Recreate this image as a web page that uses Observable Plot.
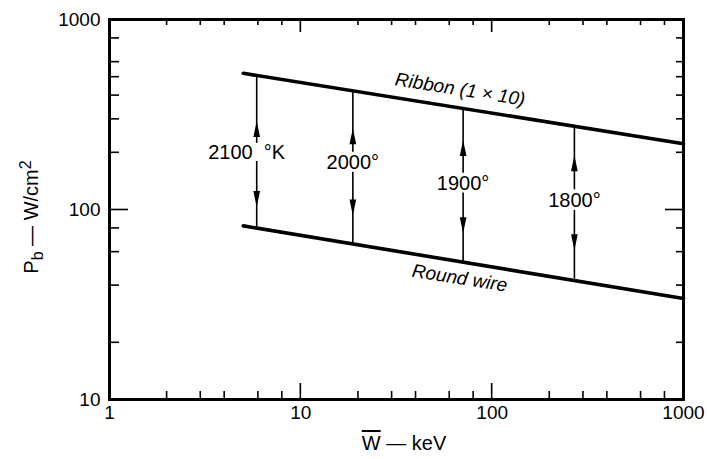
<!DOCTYPE html>
<html><head><meta charset="utf-8">
<script src="https://cdn.jsdelivr.net/npm/d3@7"></script>
<script src="https://cdn.jsdelivr.net/npm/@observablehq/plot@0.6"></script>
<style>body{margin:0;background:#fff}</style>
</head><body><div id="chart"></div>
<script>
// ---- data ----
const ribbonW = [5, 1000];
const ribbonP = [521, 222];
const wireW = [5, 1000];
const wireP = [82, 34];
const arrowW = [5.88, 18.7, 70.5, 269];
const arrowNames = ["2100  °K", "2000°", "1900°", "1800°"];
const arrowTopP = [508, 421, 339, 270];
const arrowBottomP = [80, 66, 53, 43];
const gapTopP = [223, 200, 155, 127];
const gapBottomP = [179, 157, 122, 99];
const labelP = [200, 177, 137, 112];
const upTipP = [292, 268, 232, 193];
const downTipP = [103, 93, 75, 61];
const curveNames = ["Ribbon (1 × 10)", "Round wire"];
const curveLabelW = [68, 67.6];
const curveLabelP = [428, 43.5];
const xMajor = [1, 10, 100, 1000];
const xMinor = [2, 3, 4, 6, 8, 20, 30, 40, 60, 80, 200, 300, 400, 600, 800];
const yMajor = [10, 100, 1000];
const yMinor = [20, 40, 60, 80, 200, 300, 400, 500, 600, 800];

// ---- layout ----
const W = 707, H = 459, mL = 109, mR = 24, mT = 19, mB = 60;
const xDomain = [1, 1000], yDomain = [10, 1000];

// ---- tables ----
const ribbon = ribbonW.map((w, i) => ({w, p: ribbonP[i]}));
const wire = wireW.map((w, i) => ({w, p: wireP[i]}));
const arrows = arrowW.map((w, i) => ({
  w, name: arrowNames[i], top: arrowTopP[i], bottom: arrowBottomP[i],
  gapTop: gapTopP[i], gapBottom: gapBottomP[i], label: labelP[i],
  up: upTipP[i], down: downTipP[i]
}));
const segments = arrows.flatMap(a => [
  {w: a.w, y1: a.top, y2: a.gapTop},
  {w: a.w, y1: a.gapBottom, y2: a.bottom}
]);
const curveLabels = curveNames.map((name, i) => ({name, w: curveLabelW[i], p: curveLabelP[i]}));

const rad = size => Math.sqrt(size / Math.PI);
const arrowUp = {draw(ctx, size) {
  const r = rad(size);
  ctx.moveTo(0, 0); ctx.lineTo(r * 0.42, r * 2); ctx.lineTo(-r * 0.42, r * 2); ctx.closePath();
}};
const arrowDown = {draw(ctx, size) {
  const r = rad(size);
  ctx.moveTo(0, 0); ctx.lineTo(r * 0.42, -r * 2); ctx.lineTo(-r * 0.42, -r * 2); ctx.closePath();
}};

const blank = () => "";
const tickStyle = {strokeWidth: 1.6, label: null, tickFormat: blank};

const chart = Plot.plot({
  width: W, height: H,
  marginLeft: mL, marginRight: mR, marginTop: mT, marginBottom: mB,
  x: {type: "log", domain: xDomain},
  y: {type: "log", domain: yDomain},
  style: {fontFamily: "'Liberation Sans', Arial, sans-serif", fontSize: "19px"},
  marks: [
    Plot.axisY({...tickStyle, ticks: yMinor, anchor: "left", tickSize: 10, dx: 10}),
    Plot.axisY({...tickStyle, ticks: yMinor, anchor: "right", tickSize: 8, dx: -8}),
    Plot.axisY({...tickStyle, ticks: yMajor, anchor: "left", tickSize: 19, dx: 19}),
    Plot.axisY({...tickStyle, ticks: yMajor, anchor: "right", tickSize: 19, dx: -19}),
    Plot.axisX({ticks: xMajor, anchor: "bottom", tickSize: 0, tickPadding: 6, tickFormat: d => String(d), label: null, fill: "black"}),
    Plot.axisY({ticks: yMajor, anchor: "left", tickSize: 0, tickPadding: 9, tickFormat: d => String(d), label: null, fill: "black"}),
    Plot.frame({strokeWidth: 3, stroke: "black"}),
    Plot.line(ribbon, {x: "w", y: "p", strokeWidth: 3.6, stroke: "black"}),
    Plot.line(wire, {x: "w", y: "p", strokeWidth: 3.6, stroke: "black"}),
    Plot.ruleX(segments, {x: "w", y1: "y1", y2: "y2", strokeWidth: 1.6, stroke: "black"}),
    Plot.dot(arrows, {x: "w", y: "up", symbol: arrowUp, r: 8, fill: "black", stroke: "none"}),
    Plot.dot(arrows, {x: "w", y: "down", symbol: arrowDown, r: 8, fill: "black", stroke: "none"}),
    Plot.text(arrows.slice(0, 1), {x: "w", y: "label", text: "name", fontSize: 20, dx: -10, fill: "black"}),
    Plot.text(arrows.slice(1), {x: "w", y: "label", text: "name", fontSize: 20, fill: "black"}),
    Plot.text(curveLabels, {x: "w", y: "p", text: "name", rotate: 9, fontStyle: "italic", fontSize: 19, fill: "black"})
  ]
});
document.getElementById("chart").appendChild(chart);

const svg = d3.select(chart);

// inward x-axis ticks (top and bottom), placed with the chart's own scales
const sx = chart.scale("x"), sy = chart.scale("y");
const yBottom = sy.apply(yDomain[0]), yTop = sy.apply(yDomain[1]);
const tickG = svg.append("g").attr("stroke", "black").attr("stroke-width", 1.6);
const addTicks = (ticks, atTop, len) => ticks.forEach(v => {
  const px = sx.apply(v);
  tickG.append("line")
    .attr("x1", px).attr("x2", px)
    .attr("y1", atTop ? yTop : yBottom)
    .attr("y2", atTop ? yTop + len : yBottom - len);
});
addTicks(xMinor, false, 8);
addTicks(xMinor, true, 6);
addTicks(xMajor, false, 16);
addTicks(xMajor, true, 13);

// axis titles
const xTitle = svg.append("text")
  .attr("x", 404).attr("y", 450)
  .attr("text-anchor", "middle")
  .attr("font-size", 20)
  .attr("fill", "black");
xTitle.append("tspan").style("text-decoration", "overline").text("W");
xTitle.append("tspan").text(" — keV");

const yTitle = svg.append("text")
  .attr("transform", "translate(38,217) rotate(-90)")
  .attr("text-anchor", "middle")
  .attr("font-size", 20)
  .attr("fill", "black");
yTitle.append("tspan").text("P");
yTitle.append("tspan").attr("baseline-shift", "-30%").attr("font-size", 16).text("b");
yTitle.append("tspan").text(" — W/cm");
yTitle.append("tspan").attr("baseline-shift", "45%").attr("font-size", 16).text("2");
</script>
</body></html>
